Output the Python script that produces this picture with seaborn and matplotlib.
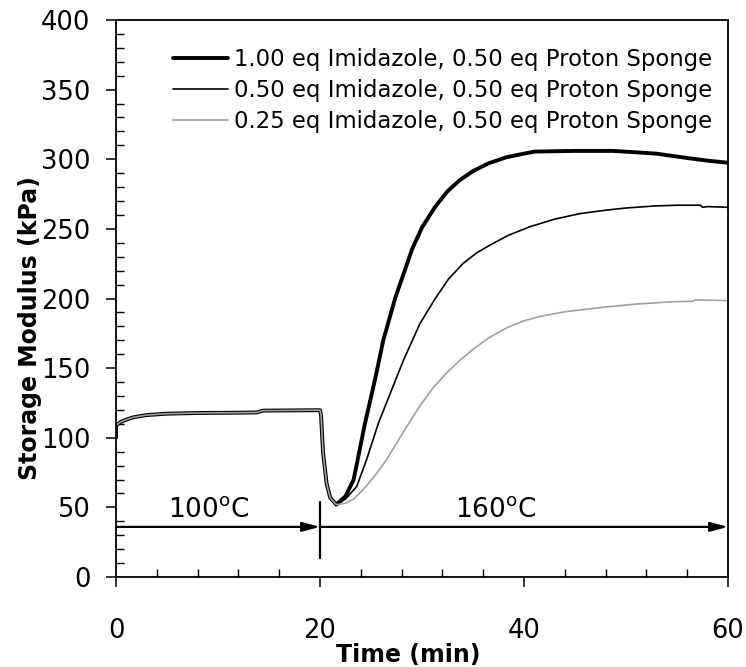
import pandas as pd
import seaborn as sns
import matplotlib.pyplot as plt
from matplotlib.ticker import MultipleLocator

# shared 100 C plateau and the drop after the temperature jump
t_start = [0, 0.01, 0.5, 1, 1.7, 3, 5, 8, 12, 13.8, 14.4, 20, 20.1, 20.3, 20.65, 21.0, 21.6]
v_start = [100, 109, 111.5, 113, 114.7, 116.3, 117.3, 117.8, 118, 118.2, 119.5, 119.8, 116, 89, 67, 57, 52]

# 1.00 eq imidazole
t_100 = [22.5, 23.3, 24.4, 25.4, 26.2, 27.4, 28.4, 29.0, 30.0, 31.3, 32.5, 33.7, 35.0, 36.5, 38.3,
         41, 45, 48.7, 51, 53, 56.2, 58, 60]
v_100 = [58, 70, 110, 142, 170, 201, 222, 235, 251, 266, 277, 285, 291.5, 297, 301.5,
         305.5, 306, 306, 305, 304, 300.7, 299, 297.5]

# 0.50 eq imidazole
t_050 = [22.5, 23.6, 24.6, 25.7, 27, 28.2, 29.8, 31.3, 32.6, 34, 35.3, 36.7, 38.5, 40.6,
         43, 45.5, 48.1, 50, 52.9, 55, 57.3, 57.5, 58, 60]
v_050 = [56, 65, 85, 110, 134, 156, 182, 200, 214, 225, 232.5, 238.5, 245.5, 251.6,
         257, 261, 263.5, 265, 266.5, 267, 267, 265.5, 266, 265.5]

# 0.25 eq imidazole
t_025 = [22.5, 23.3, 24.2, 25.3, 26.5, 27.5, 28.5, 29.8, 31.1, 32.4, 33.7, 35.0, 36.5, 38.3,
         40, 41.5, 44, 48.1, 51, 54.6, 56.5, 56.8, 60]
v_025 = [53, 56, 62.5, 72, 84, 96, 108, 123, 136, 146.5, 155.5, 163.5, 171.5, 179,
         184, 187, 190.5, 194, 196, 197.7, 198, 199, 198.5]

labels = ["1.00 eq Imidazole, 0.50 eq Proton Sponge",
          "0.50 eq Imidazole, 0.50 eq Proton Sponge",
          "0.25 eq Imidazole, 0.50 eq Proton Sponge"]
colors = ["#000000", "#000000", "#a0a0a0"]
widths = [2.8, 1.2, 1.2]

sns.set_style("ticks")
plt.rcParams["font.family"] = ["DejaVu Sans"]
plt.rcParams["text.color"] = "black"
plt.rcParams["axes.labelcolor"] = "black"
plt.rcParams["xtick.color"] = "black"
plt.rcParams["ytick.color"] = "black"

fig = plt.figure(figsize=(7.46, 6.67), dpi=100)
ax = fig.add_axes([0.1555, 0.1349, 0.8204, 0.8351])

for lab, tt, vv, c, lw in zip(labels, [t_100, t_050, t_025], [v_100, v_050, v_025], colors, widths):
    df = pd.DataFrame({"Time": t_start + tt, "Modulus": v_start + vv})
    sns.lineplot(data=df, x="Time", y="Modulus", ax=ax, color=c, linewidth=lw,
                 estimator=None, sort=False, label=lab)

# temperature program annotations
arrow = dict(arrowstyle="-|>,head_length=0.75,head_width=0.2", color="black", lw=1.6,
             mutation_scale=14, shrinkA=0, shrinkB=0)
ax.annotate("", xy=(20, 36), xytext=(0, 36), arrowprops=arrow)
ax.annotate("", xy=(60, 36), xytext=(20, 36), arrowprops=arrow)
ax.plot([20, 20], [14, 54], color="black", lw=1.6)
ax.text(9.1, 43, r"100$^\mathregular{o}$C", fontsize=19, ha="center", va="baseline")
ax.text(37.2, 43, r"160$^\mathregular{o}$C", fontsize=19, ha="center", va="baseline")

ax.set_xlim(0, 60)
ax.set_ylim(0, 400)
ax.xaxis.set_major_locator(MultipleLocator(20))
ax.xaxis.set_minor_locator(MultipleLocator(4))
ax.yaxis.set_major_locator(MultipleLocator(50))
ax.yaxis.set_minor_locator(MultipleLocator(10))

for s in ax.spines.values():
    s.set_linewidth(1.3)
    s.set_color("black")
ax.tick_params(which="major", direction="out", length=7.5, width=1.1, labelsize=18.5, colors="black")
ax.tick_params(axis="x", which="major", pad=22)
ax.tick_params(axis="y", which="major", pad=11)
ax.tick_params(which="minor", direction="in", length=5.5, width=1.0, colors="black")

ax.set_xlabel("Time (min)", fontsize=17, fontweight="bold")
ax.set_ylabel("Storage Modulus (kPa)", fontsize=17, fontweight="bold")
ax.xaxis.set_label_coords(0.477, -0.1185)
ax.yaxis.set_label_coords(-0.121, 0.447)

ax.legend(loc="upper left", bbox_to_anchor=(0.0926, 0.950), frameon=False,
          fontsize=16.4, handlelength=2.41, handletextpad=0.3, labelspacing=0.36,
          borderpad=0, borderaxespad=0)

plt.savefig("out.png", dpi=100)
